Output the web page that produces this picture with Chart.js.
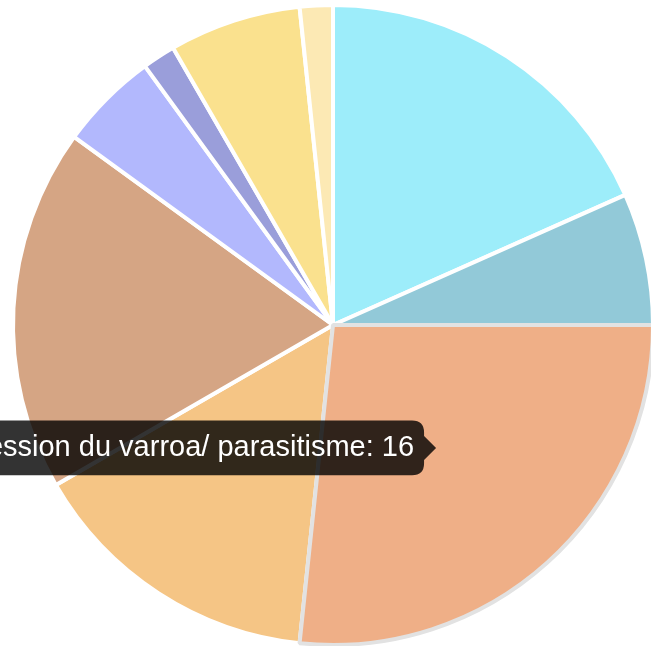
<!DOCTYPE html>
<html lang="fr">

<head>
    <meta charset="UTF-8">
    <title>Causes</title>
    <script src="https://cdn.jsdelivr.net/npm/chart.js"></script>
    <style>
        html, body { margin: 0; padding: 0; background: #fff; overflow: hidden; }
        /* canvas plus large que la fenetre : le tooltip peut sortir a gauche */
        #pizza { position: absolute; left: -150px; top: 0; }
    </style>
</head>

<body>
    <canvas id="pizza" width="816" height="650"></canvas>

    <script>
        // donnees
        var vetorlabel = [
            'Conditions météo',
            'Manque de ressources',
            'Progression du varroa/ parasitisme',
            'Frelon asiatique',
            'Pesticides',
            'Problème de reine',
            'Maladies',
            'Pillage',
            'Autre'
        ]
        var vetordata = [11, 4, 16, 9, 11, 3, 1, 4, 1]
        var cores = ['#9DEDFA', '#92C9D8', '#EFAF87', '#F5C585', '#D5A584', '#B2B8FD', '#9A9EDA', '#FAE18E', '#FCE9B4']
        var ativo = 2

        // position du tooltip un peu plus bas que le centre de la part
        Chart.Tooltip.positioners.decale = function (elements, eventPosition) {
            const p = Chart.Tooltip.positioners.average.call(this, elements, eventPosition);
            if (!p) return false;
            return { x: p.x, y: p.y + 4 };
        };

        const ctx = document.getElementById('pizza');
        const grafico = new Chart(ctx, {
            type: 'pie',
            data: {
                labels: vetorlabel,
                datasets: [{
                    data: vetordata,
                    backgroundColor: cores,
                    hoverBackgroundColor: cores,
                    borderColor: '#fff',
                    hoverBorderColor: '#e2e2e2',
                    borderWidth: 4,
                    hoverBorderWidth: 4,
                    hoverOffset: 0,
                    radius: 320
                }]
            },
            options: {
                responsive: false,
                devicePixelRatio: 1,
                animation: false,
                events: [],
                layout: { padding: { left: 150 } },
                plugins: {
                    legend: { display: false },
                    tooltip: {
                        position: 'decale',
                        backgroundColor: 'rgba(0,0,0,0.8)',
                        bodyFont: { size: 29, family: "'Liberation Sans', Arial, sans-serif" },
                        bodyColor: '#fff',
                        padding: 10,
                        caretSize: 12,
                        caretPadding: 4,
                        cornerRadius: 12,
                        xAlign: 'right',
                        yAlign: 'center',
                        displayColors: false,
                        callbacks: {
                            title: function () { return '' },
                            label: function (item) { return item.label + ': ' + item.formattedValue }
                        }
                    }
                }
            }
        });

        grafico.setActiveElements([{ datasetIndex: 0, index: ativo }]);
        grafico.tooltip.setActiveElements([{ datasetIndex: 0, index: ativo }], { x: 590, y: 443 });
        grafico.update();
    </script>
</body>
